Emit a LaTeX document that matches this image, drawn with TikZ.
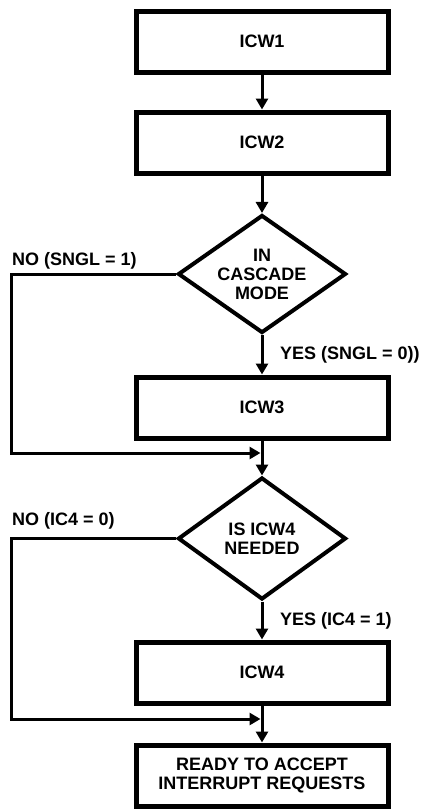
\documentclass[tikz,border=0pt]{standalone}
\usepackage{fontspec}
\setmainfont{Liberation Sans}
\usetikzlibrary{shapes.geometric,arrows.meta}

\begin{document}
\begin{tikzpicture}[x = 1pt, y = -1pt,
        box/.style = {draw, line width = 5pt, minimum width = 252pt, minimum height = 61pt, inner sep = 0pt, align = center},
        test/.style = {draw, diamond, line width = 4pt, minimum width = 168pt, minimum height = 118pt, aspect = 1.43, inner sep = 0pt, align = center},
        flow/.style = {line width = 3pt, -{Triangle[width = 12pt, length = 11pt]}},
        lbl/.style = {anchor = base west, inner sep = 0pt},
        font = \fontsize{18}{19}\selectfont\bfseries]
        \useasboundingbox (0,0) rectangle (424,809);

        \node [box] (icw1) at (262,41.7) {ICW1};
        \node [box] (icw2) at (262,142.5) {ICW2};
        \node [test] (cascade) at (262,274) {IN\\CASCADE\\MODE};
        \node [box] (icw3) at (262,407.5) {ICW3};
        \node [test, minimum height = 122pt] (needed) at (262,538.5) {IS ICW4\\NEEDED};
        \node [box] (icw4) at (262,672.5) {ICW4};
        \node [box] (ready) at (262,775.5) {READY TO ACCEPT\\INTERRUPT REQUESTS};

        \coordinate (lft) at (11,0);
        \coordinate (join1) at (262,453);
        \coordinate (join2) at (262,719);

        \draw [flow] (icw1) -- (icw2);
        \draw [flow] (icw2) -- (cascade);
        \draw [flow] (cascade) -- (icw3);
        \draw [flow] (icw3) -- (needed);
        \draw [flow] (needed) -- (icw4);
        \draw [flow] (icw4) -- (ready);

        \draw [flow, shorten >= 1.5pt] (cascade.west) -- (cascade.west -| lft) |- (join1);
        \draw [flow, shorten >= 1.5pt] (needed.west) -- (needed.west -| lft) |- (join2);

        \node [lbl] (no1) at (12,265) {NO (SNGL = 1)};
        \node [lbl] (yes1) at (280,359) {YES (SNGL = 0))};
        \node [lbl] (no2) at (12,525) {NO (IC4 = 0)};
        \node [lbl] (yes2) at (280,625) {YES (IC4 = 1)};
\end{tikzpicture}
\end{document}
